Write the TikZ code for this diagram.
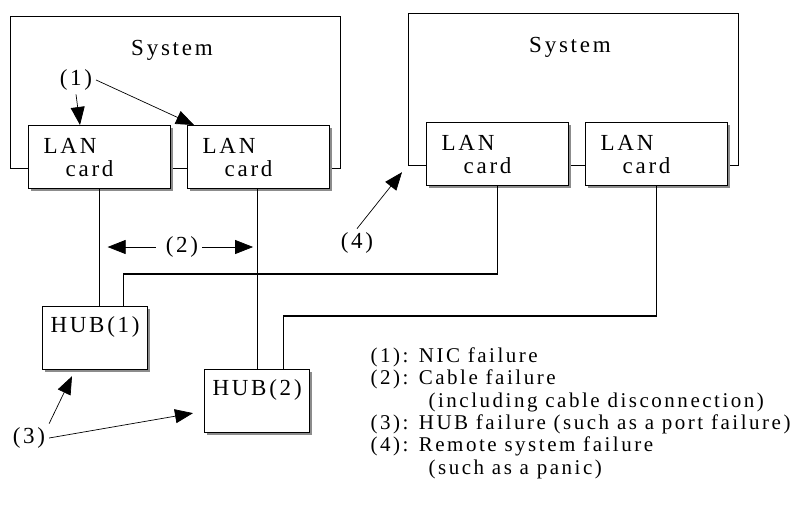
\documentclass[tikz,border=0pt]{standalone}
\usepackage{fontspec}
\setmainfont{Liberation Serif}[LetterSpace=12]
\usetikzlibrary{arrows.meta,positioning,shadows}
\tikzset{
	box shadow/.style={drop shadow={shadow xshift=2.5pt,shadow yshift=-2.5pt,fill=black!45,opacity=1}},
	fail arrow/.style={-{Triangle[length=18pt,width=14pt]},line width=0.7pt}
}

\begin{document}
\begin{tikzpicture}[
			x = 1pt, y = -1pt, line width = 1.2pt,
			font = \fontsize{23}{23}\selectfont,
			system/.style = {draw, anchor = north west, inner sep = 0pt, minimum width = 330pt, minimum height = 152pt},
			card/.style = {draw, fill = white, box shadow, anchor = north west, minimum width = 142pt, minimum height = 63pt, text width = 112pt, inner xsep = 15pt, align = left},
			hub/.style = {draw, fill = white, box shadow, anchor = north west, minimum width = 105pt, text height = 16pt, text depth = 27pt, inner ysep = 10pt},
			legend/.style = {anchor = north west, inner sep = 0pt, align = left, font = \fontsize{21}{22.4}\selectfont},
		]
			\useasboundingbox (0, 0) rectangle (801, 504);

			\foreach\s/\x/\y in {L/10/16, R/408/13}{
				\node [system] (sys\s) at (\x, \y) {};
				\node (title\s) at (\x + 162, \y + 34) {System};
				\node [card] (card\s1) at (\x + 18, \y + 109) {LAN\\\hspace*{22pt}card};
				\node [card] (card\s2) at (\x + 177, \y + 109) {LAN\\\hspace*{22pt}card};
			}

			\node [hub] (hub1) at (42, 306) {HUB(1)};
			\node [hub] (hub2) at (204, 369) {HUB(2)};

			% cables
			\draw (cardL1.south) -- (cardL1.south |- hub1.north);
			\draw (hub2.north) -- (hub2.north |- cardL2.south);
			\draw ([xshift = 28pt] hub1.north) -- ++(0, -32) -| (cardR1.south);
			\draw ([xshift = 26pt] hub2.north) -- ++(0, -53) -| (cardR2.south);

			\node (one) at (76, 80) {(1)};
			\node (two) at (182, 247) {(2)};
			\node (three) at (29, 438) {(3)};
			\node (four) at (357, 243) {(4)};

			\draw [fail arrow] (one.south) -- ([xshift = 52pt] cardL1.north west);
			\draw [fail arrow] (one.east) -- ([xshift = 7pt] cardL2.north west);
			\draw [fail arrow] ([xshift = -6pt] two.west) -- ([xshift = 8pt] cardL1.south |- two.west);
			\draw [fail arrow] (two.east) -- ([xshift = -4pt] hub2.north |- two.east);
			\draw [fail arrow] (three.north east) -- ([shift = {(30pt, -6pt)}] hub1.south west);
			\draw [fail arrow] (three.east) -- ([shift = {(-11pt, -12pt)}] hub2.west);
			\draw [fail arrow] (four.north) -- ([shift = {(-6pt, -6pt)}] sysR.south west);

			\node [legend] (legend) at (370, 347) {(1): NIC failure\\
				(2): Cable failure\\
				\hspace*{58pt}(including cable disconnection)\\
				(3): HUB failure (such as a port failure)\\
				(4): Remote system failure\\
				\hspace*{58pt}(such as a panic)};
		\end{tikzpicture}
\end{document}
